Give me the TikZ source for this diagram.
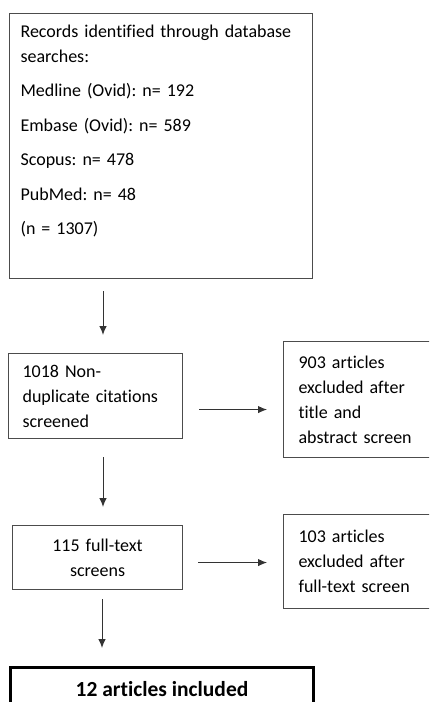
\documentclass[tikz,border=0pt]{standalone}
\usepackage{fontspec}
\setmainfont{Carlito}[Ligatures=NoCommon]
\usetikzlibrary{arrows.meta}

\begin{document}
\frenchspacing
\begin{tikzpicture}[x=1pt, y=-1pt,
  box/.style={draw=black!70, line width=1.1pt, anchor=north west, inner ysep=0pt, font=\fontsize{18}{25}\selectfont},
  arr/.style={draw=black!80, line width=1pt, -{Latex[length=9pt,width=7.5pt]}}]
\useasboundingbox (0,0) rectangle (429,702);
\clip (0,0) rectangle (429,702);

\node[box, align=left, text width=281pt, inner xsep=11pt, inner ysep=11pt] (records) at (9,13)
  {Records identified through database\\ searches:\\[9.5pt] Medline (Ovid): n= 192\\[9.5pt] Embase (Ovid): n= 589\\[9.5pt]
   Scopus: n= 478\\[9.5pt] PubMed: n= 48\\[9.5pt] (n = 1307)\rule[-33pt]{0pt}{33pt}};
\node[box, align=left, text width=146pt, inner xsep=14pt, minimum height=85pt] (nondup) at (8,353)
  {1018 Non-\\ duplicate citations\\ screened};
\node[box, align=left, text width=140pt, inner xsep=15pt, minimum height=116pt] (excl1) at (283,341)
  {903 articles\\ excluded after\\ title and\\ abstract screen};
\node[box, align=center, text width=150pt, inner xsep=10pt, minimum height=64pt] (fulltext) at (12,525)
  {115 full-text\\ screens};
\node[box, align=left, text width=140pt, inner xsep=15pt, minimum height=94pt] (excl2) at (283,514)
  {103 articles\\ excluded after\\ full-text screen};
\node[box, draw=black, line width=3pt, align=center, minimum width=303pt, minimum height=44pt,
  font=\fontsize{21.5}{25}\selectfont\bfseries] (included) at (9,666)
  {12 articles included};

\draw[arr, shorten <=12pt, shorten >=18pt] ([xshift=94pt]records.south west) -- ([xshift=95pt]nondup.north west);
\draw[arr, shorten <=16pt, shorten >=16pt] ([yshift=-13.5pt]nondup.east) -- ([yshift=-13.5pt]nondup.east -| excl1.west);
\draw[arr, shorten <=18pt, shorten >=18pt] ([xshift=95pt]nondup.south west) -- ([xshift=91pt]fulltext.north west);
\draw[arr, shorten <=15pt, shorten >=16pt] ([yshift=-5pt]fulltext.east) -- ([yshift=-5pt]fulltext.east -| excl2.west);
\draw[arr, shorten <=9pt, shorten >=18pt] ([xshift=90pt]fulltext.south west) -- ([xshift=93pt]included.north west);

\end{tikzpicture}
\end{document}
